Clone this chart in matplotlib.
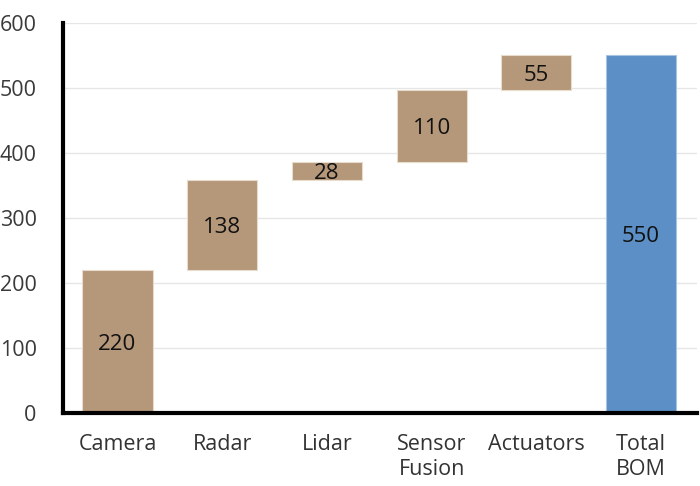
import matplotlib.pyplot as plt

plt.rcParams['font.family'] = ['Open Sans', 'DejaVu Sans']

categories = ['Camera', 'Radar', 'Lidar', 'Sensor\nFusion', 'Actuators', 'Total\nBOM']
steps = [220, 138, 28, 110, 55]
total = 550
y_ticks = [0, 100, 200, 300, 400, 500, 600]

step_color = '#B5977A'
total_color = '#5B8FC6'


def plot_waterfall():
    fig = plt.figure(figsize=(7, 4.86), dpi=100)
    ax = fig.add_axes([0.09, 0.15, 0.905, 0.803])

    bottom = 0
    for i, v in enumerate(steps):
        ax.bar(i, v, bottom=bottom, width=0.67, color=step_color,
               edgecolor='#E8DCCD', linewidth=0.8, zorder=3)
        ax.text(i, bottom + v / 2, str(v), ha='center', va='center_baseline',
                fontsize=16, color='#111111', zorder=4)
        bottom += v

    n = len(steps)
    ax.bar(n, total, width=0.67, color=total_color,
           edgecolor='#A9C4E3', linewidth=0.8, zorder=3)
    ax.text(n, total / 2, str(total), ha='center', va='center_baseline',
            fontsize=16, color='#111111', zorder=4)

    ax.set_xlim(-0.52, 5.53)
    ax.set_ylim(0, 600)
    ax.set_yticks(y_ticks)
    ax.set_xticks(range(len(categories)))
    ax.set_xticklabels(categories, fontsize=15.5, color='#333333', linespacing=1.25)
    ax.tick_params(axis='y', labelsize=15.5, labelcolor='#3a3a3a', length=0, pad=19)
    ax.tick_params(axis='x', length=0, pad=15)

    ax.grid(axis='y', color='#E6E6E6', linewidth=1, zorder=0)
    for s in ['top', 'right']:
        ax.spines[s].set_visible(False)
    for s in ['left', 'bottom']:
        ax.spines[s].set_linewidth(3)
        ax.spines[s].set_color('black')
        ax.spines[s].set_zorder(5)

    fig.savefig('out.png', dpi=100)


def main():
    plot_waterfall()


if __name__ == "__main__":
    main()
